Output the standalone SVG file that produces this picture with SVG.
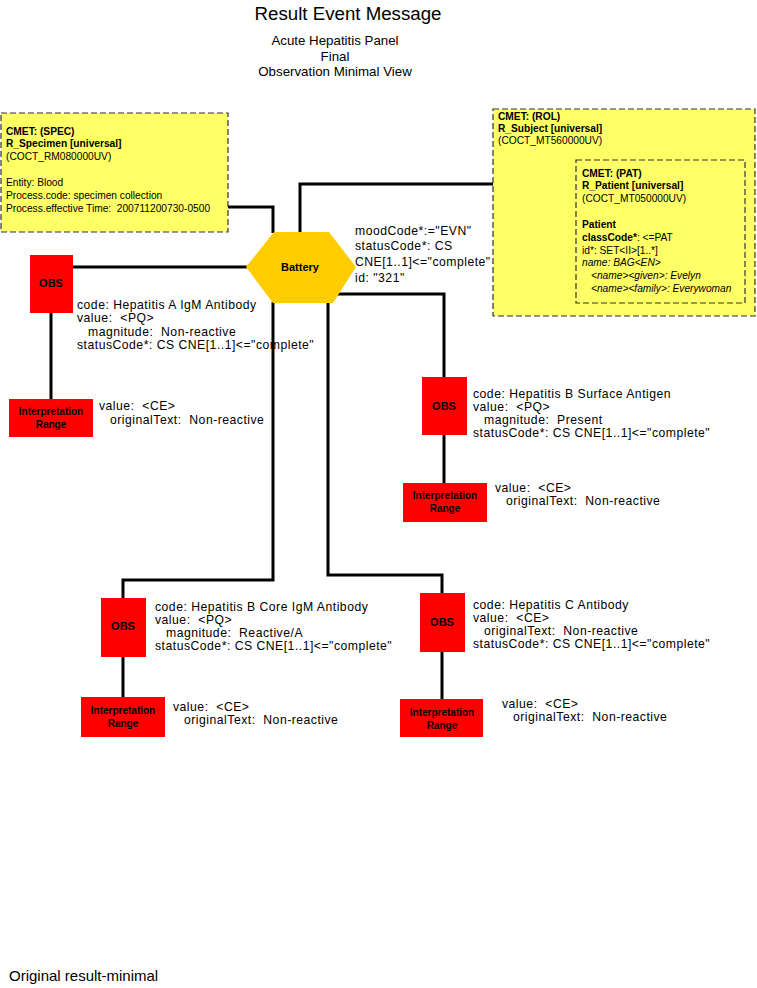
<svg xmlns="http://www.w3.org/2000/svg" width="757" height="988" viewBox="0 0 757 988">
<style>
text{font-family:"Liberation Sans",Arial,sans-serif;fill:#000;white-space:pre}
.title{font-size:18.7px}
.sub{font-size:13.3px}
.t{font-size:12.2px;letter-spacing:0.5px}
.s{font-size:10.2px}
.b{font-weight:bold}
.i{font-style:italic}
.lbl{font-size:11px;font-weight:bold;text-anchor:middle}
.ir{font-size:10px;font-weight:bold;text-anchor:middle}
.cmet{fill:#FFFF66;stroke:#333;stroke-width:1.2;stroke-dasharray:6,3}
.obs{fill:#FF0000}
.conn{fill:none;stroke:#000;stroke-width:3}
</style>
<rect width="757" height="988" fill="#fff"/>
<g id="title">
<text class="title" x="348" y="20" text-anchor="middle">Result Event Message</text>
<text class="sub" x="335" y="45" text-anchor="middle">Acute Hepatitis Panel</text>
<text class="sub" x="335" y="61" text-anchor="middle">Final</text>
<text class="sub" x="335" y="76" text-anchor="middle">Observation Minimal View</text>
</g>
<g id="connectors">
<polyline class="conn" points="228,207 273,207 273,233"/>
<polyline class="conn" points="300,233 300,184 493,184"/>
<polyline class="conn" points="73,267 247,267"/>
<polyline class="conn" points="51,313 51,399"/>
<polyline class="conn" points="334,294 444,294 444,377"/>
<polyline class="conn" points="444,435 444,483"/>
<polyline class="conn" points="273,302 273,580 123,580 123,598"/>
<polyline class="conn" points="123,657 123,697"/>
<polyline class="conn" points="328,302 328,575 442,575 442,593"/>
<polyline class="conn" points="442,652 442,699"/>
</g>
<g id="spec">
<rect class="cmet" x="1" y="113" width="227" height="119"/>
<text class="s b" x="6" y="135">CMET: (SPEC)</text>
<text class="s b" x="6" y="147">R_Specimen [universal]</text>
<text class="s" x="6" y="160">(COCT_RM080000UV)</text>
<text class="s" x="6" y="186">Entity: Blood</text>
<text class="s" x="6" y="199">Process.code: specimen collection</text>
<text class="s" x="6" y="212">Process.effective Time: &#160;200711200730-0500</text>
</g>
<g id="rol">
<rect class="cmet" x="493" y="109" width="262" height="207"/>
<text class="s b" x="498" y="120">CMET: (ROL)</text>
<text class="s b" x="498" y="132">R_Subject [universal]</text>
<text class="s" x="498" y="144">(COCT_MT560000UV)</text>
<g id="pat">
<rect class="cmet" x="576" y="160" width="169" height="143"/>
<text class="s b" x="582" y="177">CMET: (PAT)</text>
<text class="s b" x="582" y="189">R_Patient [universal]</text>
<text class="s" x="582" y="202">(COCT_MT050000UV)</text>
<text class="s b" x="582" y="228">Patient</text>
<text class="s" x="582" y="241"><tspan class="b">classCode*</tspan>: &lt;=PAT</text>
<text class="s" x="582" y="254">id*: SET&lt;II&gt;[1..*]</text>
<text class="s i" x="582" y="266">name: BAG&lt;EN&gt;</text>
<text class="s i" x="591" y="279">&lt;name&gt;&lt;given&gt;: Evelyn</text>
<text class="s i" x="591" y="292">&lt;name&gt;&lt;family&gt;: Everywoman</text>
</g>
</g>
<g id="battery">
<polygon points="246,267 274,232 329,232 356,267 333,303 273,303" fill="#FFCC00"/>
<text class="lbl" x="300" y="271">Battery</text>
<text class="t" x="355" y="235">moodCode*:="EVN"</text>
<text class="t" x="355" y="250">statusCode*: CS</text>
<text class="t" x="355" y="266">CNE[1..1]&lt;="complete"</text>
<text class="t" x="355" y="282">id: "321"</text>
</g>
<g id="obs1">
<rect class="obs" x="30" y="255" width="43" height="58"/>
<text class="lbl" x="51" y="287">OBS</text>
<text class="t" x="77" y="309">code: Hepatitis A IgM Antibody</text>
<text class="t" x="77" y="322">value: &#160;&lt;PQ&gt;</text>
<text class="t" x="88" y="336">magnitude: &#160;Non-reactive</text>
<text class="t" x="77" y="349">statusCode*: CS CNE[1..1]&lt;="complete"</text>
</g>
<g id="ir1">
<rect class="obs" x="9" y="399" width="84" height="38"/>
<text class="ir" x="51" y="415">Interpretation</text>
<text class="ir" x="51" y="428">Range</text>
<text class="t" x="99" y="410">value: &#160;&lt;CE&gt;</text>
<text class="t" x="110" y="424">originalText: &#160;Non-reactive</text>
</g>
<g id="obs2">
<rect class="obs" x="422" y="377" width="45" height="58"/>
<text class="lbl" x="444" y="410">OBS</text>
<text class="t" x="473" y="398">code: Hepatitis B Surface Antigen</text>
<text class="t" x="473" y="411">value: &#160;&lt;PQ&gt;</text>
<text class="t" x="484" y="424">magnitude: &#160;Present</text>
<text class="t" x="473" y="437">statusCode*: CS CNE[1..1]&lt;="complete"</text>
</g>
<g id="ir2">
<rect class="obs" x="403" y="483" width="84" height="39"/>
<text class="ir" x="445" y="499">Interpretation</text>
<text class="ir" x="445" y="512">Range</text>
<text class="t" x="495" y="492">value: &#160;&lt;CE&gt;</text>
<text class="t" x="506" y="505">originalText: &#160;Non-reactive</text>
</g>
<g id="obs3">
<rect class="obs" x="101" y="598" width="45" height="59"/>
<text class="lbl" x="123" y="630">OBS</text>
<text class="t" x="155" y="611">code: Hepatitis B Core IgM Antibody</text>
<text class="t" x="155" y="624">value: &#160;&lt;PQ&gt;</text>
<text class="t" x="166" y="637">magnitude: &#160;Reactive/A</text>
<text class="t" x="155" y="650">statusCode*: CS CNE[1..1]&lt;="complete"</text>
</g>
<g id="ir3">
<rect class="obs" x="81" y="697" width="84" height="40"/>
<text class="ir" x="123" y="714">Interpretation</text>
<text class="ir" x="123" y="727">Range</text>
<text class="t" x="173" y="711">value: &#160;&lt;CE&gt;</text>
<text class="t" x="184" y="724">originalText: &#160;Non-reactive</text>
</g>
<g id="obs4">
<rect class="obs" x="420" y="593" width="45" height="59"/>
<text class="lbl" x="442" y="626">OBS</text>
<text class="t" x="473" y="609">code: Hepatitis C Antibody</text>
<text class="t" x="473" y="622">value: &#160;&lt;CE&gt;</text>
<text class="t" x="484" y="635">originalText: &#160;Non-reactive</text>
<text class="t" x="473" y="648">statusCode*: CS CNE[1..1]&lt;="complete"</text>
</g>
<g id="ir4">
<rect class="obs" x="400" y="699" width="83" height="38"/>
<text class="ir" x="442" y="716">Interpretation</text>
<text class="ir" x="442" y="729">Range</text>
<text class="t" x="502" y="708">value: &#160;&lt;CE&gt;</text>
<text class="t" x="513" y="721">originalText: &#160;Non-reactive</text>
</g>
<g id="footer">
<text x="9" y="981" style="font-size:15px">Original result-minimal</text>
</g>
</svg>
